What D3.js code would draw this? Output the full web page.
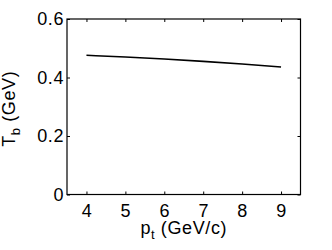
<!DOCTYPE html>
<html>
<head>
<meta charset="utf-8">
<script src="https://cdn.jsdelivr.net/npm/d3@7"></script>
<style>
body{margin:0;background:#fff;}
svg{display:block;}
text{font-family:"Liberation Sans",Arial,sans-serif;fill:#000;}
</style>
</head>
<body>
<svg class="plot"></svg>
<script>
var pt=[4,5,6,7,8,9];
var tb=[0.476,0.470,0.463,0.455,0.446,0.436];
var xTicks=[4,5,6,7,8,9];
var yTicks=[0,0.2,0.4,0.6];

var screen={width:332,height:250};
var margin={top:19,bottom:55.5,left:67,right:31.5};
var width=screen.width-margin.left-margin.right;
var height=screen.height-margin.top-margin.bottom;

var svg=d3.select("svg.plot")
          .attr("width",screen.width)
          .attr("height",screen.height);

var xscale=d3.scaleLinear()
             .domain([3.5,9.5])
             .range([0,width]);
var yscale=d3.scaleLinear()
             .domain([0,0.6])
             .range([height,0]);

var plot=svg.append("g")
            .attr("transform","translate("+margin.left+","+margin.top+")");

var styleAxis=function(g){
  g.select(".domain").remove();
  g.selectAll("line").attr("stroke","#000").attr("stroke-width",1);
  g.selectAll("text").style("font-size","18px").style("letter-spacing","0.6px")
   .style("font-family","'Liberation Sans',Arial,sans-serif");
};

plot.append("g")
    .attr("transform","translate(0,"+height+")")
    .call(d3.axisBottom(xscale).tickValues(xTicks).tickSizeInner(-3).tickSizeOuter(0).tickPadding(9.5).tickFormat(d3.format("d")))
    .call(styleAxis);
plot.append("g")
    .call(d3.axisTop(xscale).tickValues(xTicks).tickSizeInner(-3).tickSizeOuter(0).tickFormat(""))
    .call(styleAxis);
plot.append("g")
    .call(d3.axisLeft(yscale).tickValues(yTicks).tickSizeInner(-3).tickSizeOuter(0).tickPadding(3)
      .tickFormat(function(d){return d===0?"0":d3.format(".1f")(d);}))
    .call(styleAxis);
plot.append("g")
    .attr("transform","translate("+width+",0)")
    .call(d3.axisRight(yscale).tickValues(yTicks).tickSizeInner(-3).tickSizeOuter(0).tickFormat(""))
    .call(styleAxis);

plot.append("rect")
    .attr("x",0).attr("y",0)
    .attr("width",width).attr("height",height)
    .attr("fill","none").attr("stroke","#000").attr("stroke-width",1.2);

var line=d3.line()
           .x(function(d,i){return xscale(pt[i]);})
           .y(function(d){return yscale(d);})
           .curve(d3.curveMonotoneX);
plot.append("path")
    .datum(tb)
    .attr("d",line)
    .attr("fill","none")
    .attr("stroke","#000")
    .attr("stroke-width",1.6);

// x label
var xl=svg.append("text")
          .attr("x",margin.left+width/2)
          .attr("y",234)
          .attr("text-anchor","middle")
          .style("font-size","18px")
          .style("letter-spacing","0.6px");
xl.append("tspan").text("p");
xl.append("tspan").attr("dy",5).style("font-size","13px").text("t");
xl.append("tspan").attr("dy",-5).text(" (GeV/c)");

// y label
var yl=svg.append("text")
          .attr("transform","translate(15,"+(margin.top+height/2+2)+") rotate(-90)")
          .attr("text-anchor","middle")
          .style("font-size","18px")
          .style("letter-spacing","0.6px");
yl.append("tspan").text("T");
yl.append("tspan").attr("dy",5).style("font-size","13px").text("b");
yl.append("tspan").attr("dy",-5).text(" (GeV)");
</script>
</body>
</html>
